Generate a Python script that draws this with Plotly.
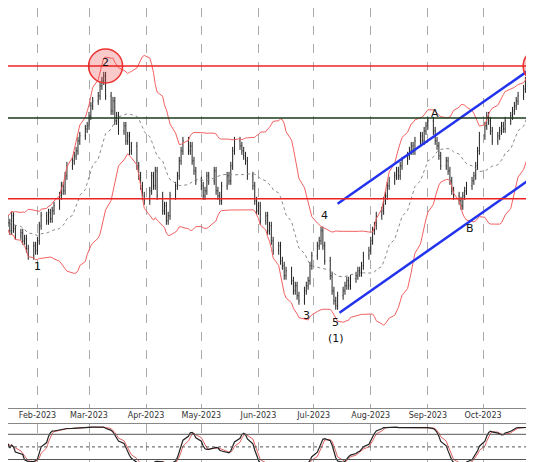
import pandas as pd
import numpy as np
import plotly.graph_objects as go

# closes (arbitrary price units)
closes = [175, 182, 178, 170, 185, 172, 165, 168, 160, 162, 152, 145, 155, 150,
          160, 175, 185, 180, 188, 182, 190, 195, 205, 215, 210, 225, 235, 240, 245, 250, 260, 265, 272, 275,
          285, 295, 300, 305, 315, 320, 325,
          305, 290, 300, 280, 285, 270, 275, 260, 265, 250, 255, 235, 225, 215, 205,
          200, 210, 225, 215, 230, 205, 190, 195, 180, 185, 205, 215, 225, 240, 250, 260, 250, 255, 240, 230,
          220, 215, 205, 210, 225, 220, 230, 210, 205, 200, 215, 225, 220, 235, 250, 260, 255, 250, 245, 240, 225, 215,
          200, 190, 195, 180, 185, 170, 175, 160, 150, 155, 140, 135, 125, 130, 120, 110, 115, 105, 100, 110, 115, 120,
          135, 145, 155, 160, 170, 155, 140, 125, 110, 100, 95, 105, 110, 115, 120, 115, 122, 125, 130, 128, 135,
          145, 150, 160, 170, 175, 185, 190, 200, 205, 215, 220, 225, 230, 225, 235, 240, 245, 250, 255, 250, 260, 265,
          260, 270, 275, 280, 270, 260, 255, 245, 235, 240, 230, 220, 210, 205, 200, 195, 205, 210, 215, 220, 225,
          235, 250, 265, 275, 285, 280, 270, 260, 265, 270, 275, 272, 280, 285, 290, 295, 300, 305, 312, 320, 330]
levels_red = [335, 202]
level_green = 283
labels = [("2", "2023-03-10", 338), ("1", "2023-02-01", 134), ("3", "2023-06-27", 85),
          ("4", "2023-07-07", 185), ("5", "2023-07-13", 78), ("(1)", "2023-07-13", 62),
          ("A", "2023-09-05", 287), ("B", "2023-09-24", 172)]
chan_up = (["2023-07-14", "2023-11-02"], [197, 340])
chan_dn = (["2023-07-15", "2023-11-02"], [88, 230])
circles = (["2023-03-10", "2023-11-01"], [335, 335])

dates = pd.bdate_range("2023-01-12", periods=len(closes))
c = pd.Series(closes, index=dates, dtype=float)
o = c.shift(1).fillna(c.iloc[0])
h = np.maximum(o, c) + 4
l = np.minimum(o, c) - 4

mid = c.rolling(20, min_periods=1).mean()
sd = c.rolling(20, min_periods=2).std().fillna(0)
up, dn = mid + 2 * sd, mid - 2 * sd

hh = h.rolling(21, min_periods=1).max()
ll = l.rolling(21, min_periods=1).min()
k = (100 * (c - ll) / (hh - ll)).rolling(5, min_periods=1).mean()
d = k.rolling(3, min_periods=1).mean()

fig = go.Figure()
fig.add_trace(go.Scatter(x=dates, y=up, line=dict(color="#f26060", width=1), xaxis="x", yaxis="y"))
fig.add_trace(go.Scatter(x=dates, y=dn, line=dict(color="#f26060", width=1), xaxis="x", yaxis="y"))
fig.add_trace(go.Scatter(x=dates, y=mid, line=dict(color="#888", width=1, dash="dot"), xaxis="x", yaxis="y"))
fig.add_trace(go.Ohlc(x=dates, open=o, high=h, low=l, close=c, xaxis="x", yaxis="y",
                      increasing_line_color="#222", decreasing_line_color="#222", line_width=1))
for yv in levels_red:
    fig.add_hline(y=yv, line=dict(color="#ee2222", width=1.5), yref="y")
fig.add_hline(y=level_green, line=dict(color="#1a3a1a", width=1.5), yref="y")
for xs, ys in (chan_up, chan_dn):
    fig.add_trace(go.Scatter(x=xs, y=ys, mode="lines", line=dict(color="#2233ee", width=2.5)))
fig.add_trace(go.Scatter(x=circles[0], y=circles[1], mode="markers",
                         marker=dict(size=34, color="rgba(240,80,80,0.3)", line=dict(color="#e33", width=1.5))))
for t, x, y in labels:
    fig.add_annotation(x=x, y=y, text=t, showarrow=False, font=dict(size=11, color="#111"))

fig.add_trace(go.Scatter(x=dates, y=d, line=dict(color="#e06060", width=1), xaxis="x2", yaxis="y2"))
fig.add_trace(go.Scatter(x=dates, y=k, line=dict(color="#222", width=1.2), xaxis="x2", yaxis="y2"))
for yv, ds in ((80, "solid"), (50, "dot"), (20, "solid")):
    fig.add_hline(y=yv, line=dict(color="#555", width=1, dash=ds), yref="y2")

rng = ["2023-01-16", "2023-11-02"]
fig.update_layout(
    width=534, height=462, margin=dict(l=0, r=0, t=0, b=0), showlegend=False,
    plot_bgcolor="white", paper_bgcolor="white", font=dict(family="DejaVu Sans", size=8, color="#333"),
    xaxis=dict(range=rng, domain=[0, 1], anchor="y", dtick="M1", tickformat="%b-%Y", ticks="",
               showgrid=True, gridcolor="#aaa", griddash="dash", rangeslider_visible=False,
               showline=True, linecolor="#888", mirror=False),
    yaxis=dict(domain=[0.135, 1], range=[-7, 393], showticklabels=False, showgrid=False, zeroline=False),
    xaxis2=dict(range=rng, anchor="y2", dtick="M1", showticklabels=False, showgrid=True,
                gridcolor="#aaa", griddash="dash", showline=True, linecolor="#888", mirror=True),
    yaxis2=dict(domain=[0, 0.1], range=[-5, 105], showticklabels=False, showgrid=False, zeroline=False),
)
fig.write_html("out.html")
